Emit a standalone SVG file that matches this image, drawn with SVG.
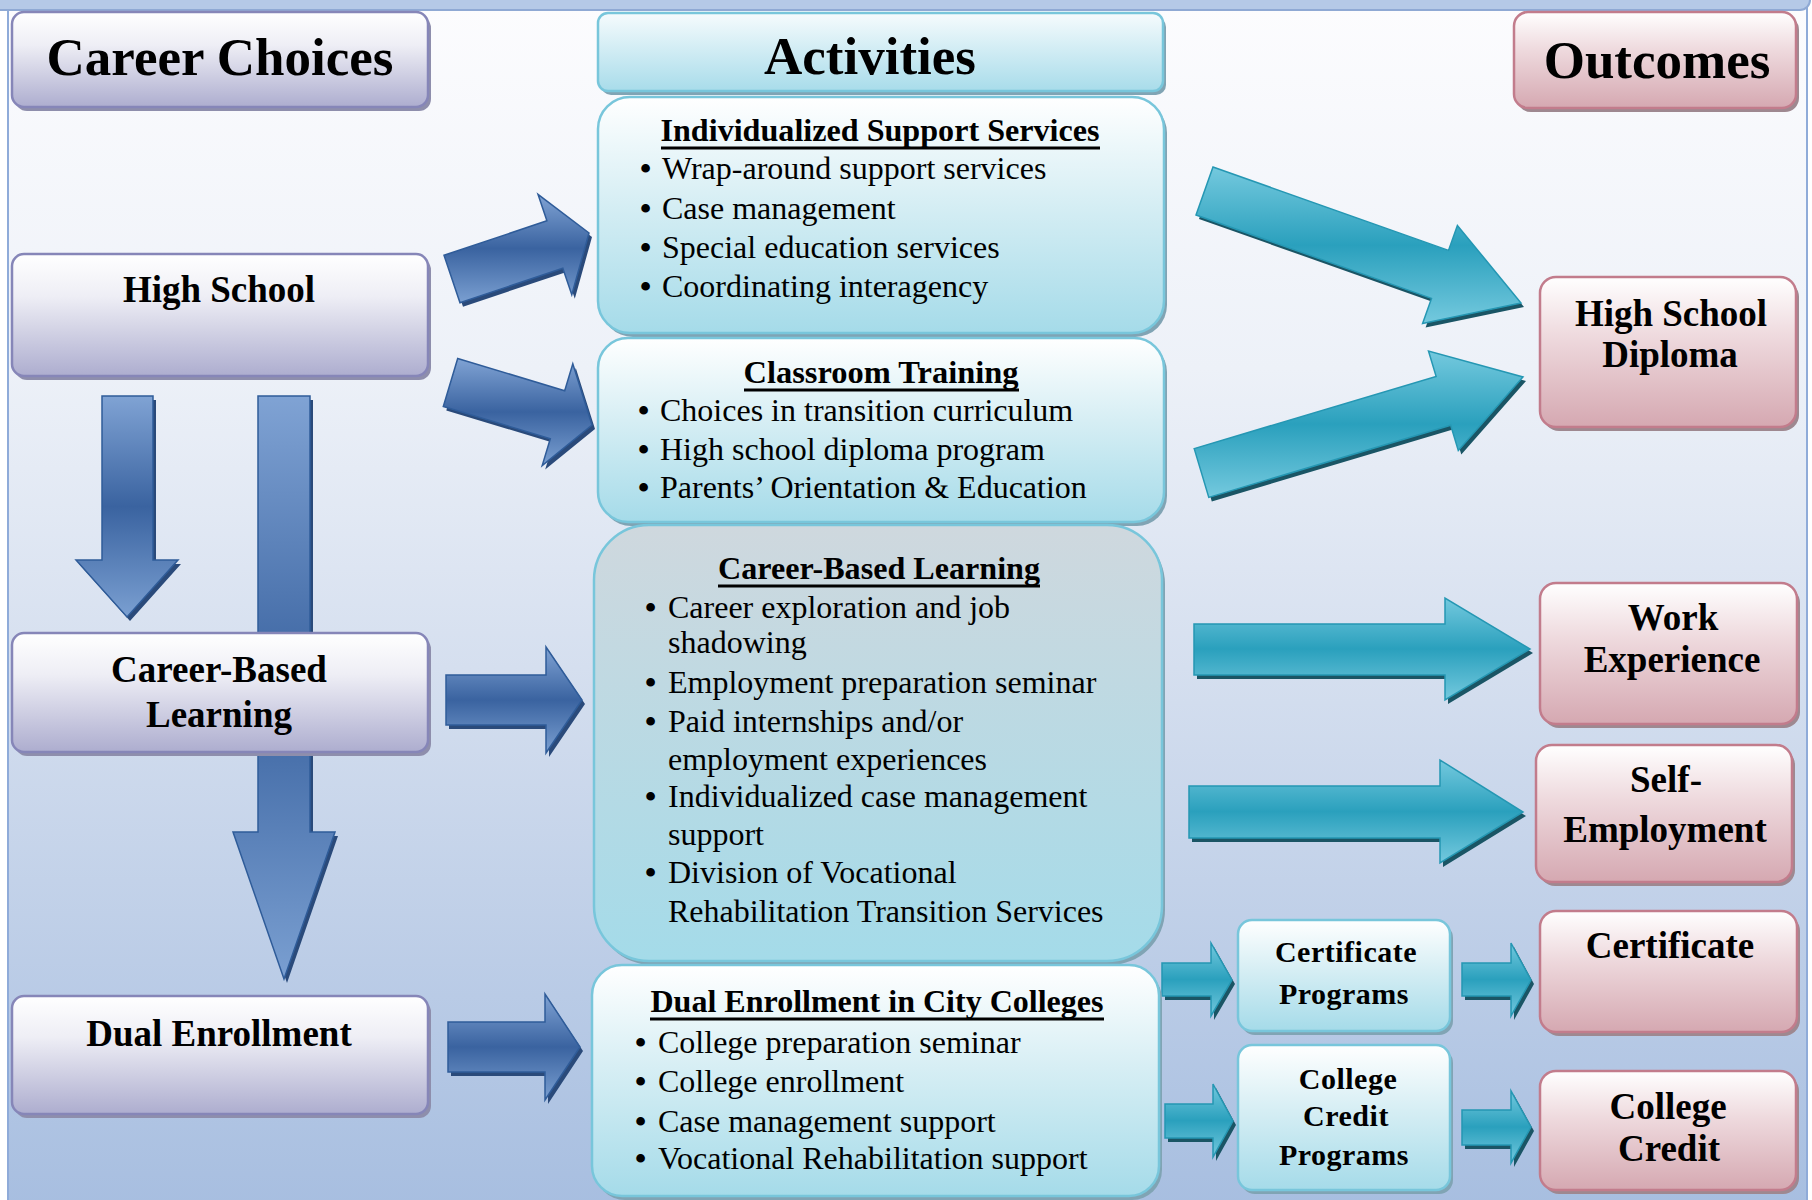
<svg xmlns="http://www.w3.org/2000/svg" width="1812" height="1200" viewBox="0 0 1812 1200">
<defs>
<linearGradient id="bg" x1="0" y1="0" x2="0" y2="1">
<stop offset="0" stop-color="#fcfcfe"/><stop offset="0.3" stop-color="#edf1f8"/><stop offset="0.55" stop-color="#d5dfef"/><stop offset="1" stop-color="#a7bee0"/>
</linearGradient>
<linearGradient id="gPur" x1="0" y1="0" x2="0" y2="1">
<stop offset="0" stop-color="#ffffff"/><stop offset="0.35" stop-color="#eeeef5"/><stop offset="1" stop-color="#adadcf"/>
</linearGradient>
<linearGradient id="gCy" x1="0" y1="0" x2="0" y2="1">
<stop offset="0" stop-color="#ffffff"/><stop offset="0.45" stop-color="#d6eef4"/><stop offset="1" stop-color="#a5dbe9"/>
</linearGradient>
<linearGradient id="gHead" x1="0" y1="0" x2="0" y2="1">
<stop offset="0" stop-color="#f6fbfd"/><stop offset="1" stop-color="#a8dcea"/>
</linearGradient>
<linearGradient id="gCbl" x1="0" y1="0" x2="0" y2="1">
<stop offset="0" stop-color="#cfd8de"/><stop offset="1" stop-color="#a4dbe9"/>
</linearGradient>
<linearGradient id="gPink" x1="0" y1="0" x2="0" y2="1">
<stop offset="0" stop-color="#ffffff"/><stop offset="0.4" stop-color="#eed9dd"/><stop offset="1" stop-color="#d5a8b1"/>
</linearGradient>
<linearGradient id="gBlue" x1="0" y1="0" x2="0" y2="1">
<stop offset="0" stop-color="#80a3d4"/><stop offset="0.5" stop-color="#3a63a0"/><stop offset="1" stop-color="#7a9fd1"/>
</linearGradient>
<linearGradient id="gTeal" x1="0" y1="0" x2="0" y2="1">
<stop offset="0" stop-color="#74c9de"/><stop offset="0.5" stop-color="#2aa0bd"/><stop offset="1" stop-color="#74c9de"/>
</linearGradient>
</defs>
<style>
.t{font-family:"Liberation Serif","Times New Roman",serif;fill:#000}
.hb{font-weight:bold;font-size:53px;text-anchor:middle}
.lb{font-weight:bold;font-size:37px;text-anchor:middle}
.sb{font-weight:bold;font-size:30px;text-anchor:middle;letter-spacing:0.5px}
.ti{font-weight:bold;font-size:31px;text-anchor:middle}
.bl{font-size:32px}
.bu{font-weight:bold}
.ul{stroke:#000;stroke-width:3}
.pur{fill:url(#gPur);stroke:#8686b8;stroke-width:2.5}
.purS{fill:#8e8eac}
.cy{fill:url(#gCy);stroke:#78c6db;stroke-width:2.5}
.cyS{fill:#80a4b4}
.pk{fill:url(#gPink);stroke:#c27c8c;stroke-width:2.5}
.pkS{fill:#9e8890}
.ab{fill:url(#gBlue);stroke:#2f5c99;stroke-width:1.5}
.abS{fill:#2a4a7a}
.at{fill:url(#gTeal);stroke:#2597b3;stroke-width:1.5}
.atS{fill:#1a5565}
</style>
<rect x="0" y="0" width="1812" height="1200" fill="#ffffff"/>
<rect x="8" y="8" width="1799" height="1200" fill="url(#bg)" stroke="#8fabd9" stroke-width="2"/>
<rect x="-10" y="-20" width="1820" height="30" rx="10" fill="#b5c9e7" stroke="#8fa9d4" stroke-width="2"/>

<g id="connectors">
<g transform="translate(3,4)">
<polygon class="abS" points="258,396 310,396 310,832 335,832 284,979 233,832 258,832"/>
<polygon class="abS" points="102,396 153,396 153,560 178,560 127,617 76,560 102,560"/>
<polygon class="abS" points="444,255.3 546.9,220.8 538,194.3 589,233 571.8,294.7 562.8,268.2 460,302.7"/>
<polygon class="abS" points="457.7,358.5 564.7,390.7 572.8,363.9 592,425 542.2,465.5 550.3,438.7 443.3,406.5"/>
<polygon class="abS" points="446,675 546,675 546,647 582,700 546,753 546,725 446,725"/>
<polygon class="abS" points="448,1022 545,1022 545,994 580,1047 545,1100 545,1072 448,1072"/>
<polygon class="atS" points="1213,167 1448.5,250.4 1457.4,225.4 1521,303 1422.6,323.4 1431.5,298.4 1196,215"/>
<polygon class="atS" points="1194.2,448.6 1436.1,376.4 1428.5,351 1523,377 1458.3,450.6 1450.7,425.2 1208.8,497.4"/>
<polygon class="atS" points="1194,624 1445,624 1445,598 1530,649 1445,700 1445,675 1194,675"/>
<polygon class="atS" points="1189,786 1440,786 1440,760 1523,812 1440,863 1440,838 1189,838"/>
<polygon class="atS" points="1162,963 1211,963 1211,943 1232,980 1211,1016 1211,996 1162,996"/>
<polygon class="atS" points="1165,1104 1213,1104 1213,1084 1233,1121 1213,1157 1213,1138 1165,1138"/>
<polygon class="atS" points="1462,963 1511,963 1511,943 1531,980 1511,1016 1511,996 1462,996"/>
<polygon class="atS" points="1462,1110 1511,1110 1511,1091 1531,1127 1511,1163 1511,1145 1462,1145"/>
</g>
<polygon class="ab" points="258,396 310,396 310,832 335,832 284,979 233,832 258,832"/>
<polygon class="ab" points="102,396 153,396 153,560 178,560 127,617 76,560 102,560"/>
<polygon class="ab" points="444,255.3 546.9,220.8 538,194.3 589,233 571.8,294.7 562.8,268.2 460,302.7"/>
<polygon class="ab" points="457.7,358.5 564.7,390.7 572.8,363.9 592,425 542.2,465.5 550.3,438.7 443.3,406.5"/>
<polygon class="ab" points="446,675 546,675 546,647 582,700 546,753 546,725 446,725"/>
<polygon class="ab" points="448,1022 545,1022 545,994 580,1047 545,1100 545,1072 448,1072"/>
<polygon class="at" points="1213,167 1448.5,250.4 1457.4,225.4 1521,303 1422.6,323.4 1431.5,298.4 1196,215"/>
<polygon class="at" points="1194.2,448.6 1436.1,376.4 1428.5,351 1523,377 1458.3,450.6 1450.7,425.2 1208.8,497.4"/>
<polygon class="at" points="1194,624 1445,624 1445,598 1530,649 1445,700 1445,675 1194,675"/>
<polygon class="at" points="1189,786 1440,786 1440,760 1523,812 1440,863 1440,838 1189,838"/>
<polygon class="at" points="1162,963 1211,963 1211,943 1232,980 1211,1016 1211,996 1162,996"/>
<polygon class="at" points="1165,1104 1213,1104 1213,1084 1233,1121 1213,1157 1213,1138 1165,1138"/>
<polygon class="at" points="1462,963 1511,963 1511,943 1531,980 1511,1016 1511,996 1462,996"/>
<polygon class="at" points="1462,1110 1511,1110 1511,1091 1531,1127 1511,1163 1511,1145 1462,1145"/>
</g>

<g id="career-choices">
<rect class="purS" x="15" y="16" width="416" height="95" rx="12"/>
<rect class="pur" x="12" y="12" width="416" height="95" rx="12"/>
<text class="t hb" x="220" y="75">Career Choices</text>
</g>
<g id="high-school">
<rect class="purS" x="15" y="258" width="416" height="122" rx="12"/>
<rect class="pur" x="12" y="254" width="416" height="122" rx="12"/>
<text class="t lb" x="219" y="302">High School</text>
</g>
<g id="career-based">
<rect class="purS" x="15" y="637" width="416" height="119" rx="12"/>
<rect class="pur" x="12" y="633" width="416" height="119" rx="12"/>
<text class="t lb" x="219" y="682">Career-Based</text>
<text class="t lb" x="219" y="727">Learning</text>
</g>
<g id="dual-enrollment">
<rect class="purS" x="15" y="1000" width="416" height="118" rx="12"/>
<rect class="pur" x="12" y="996" width="416" height="118" rx="12"/>
<text class="t lb" x="219" y="1046">Dual Enrollment</text>
</g>

<g id="activities">
<rect class="cyS" x="601" y="17" width="565" height="78" rx="10"/>
<rect x="598" y="13" width="565" height="78" rx="10" fill="url(#gHead)" stroke="#78c6db" stroke-width="2.5"/>
<text class="t hb" x="870" y="74">Activities</text>
</g>
<g id="iss">
<rect class="cyS" x="601" y="101" width="566" height="236" rx="32"/>
<rect class="cy" x="598" y="97" width="566" height="236" rx="32"/>
<text class="t ti" x="880" y="141" textLength="439" lengthAdjust="spacingAndGlyphs">Individualized Support Services</text>
<line class="ul" x1="661" y1="148" x2="1100" y2="148"/>
<text class="t bl" y="179"><tspan class="bu" x="640">•</tspan><tspan x="662">Wrap-around support services</tspan></text>
<text class="t bl" y="219"><tspan class="bu" x="640">•</tspan><tspan x="662">Case management</tspan></text>
<text class="t bl" y="258"><tspan class="bu" x="640">•</tspan><tspan x="662">Special education services</tspan></text>
<text class="t bl" y="297"><tspan class="bu" x="640">•</tspan><tspan x="662">Coordinating interagency</tspan></text>
</g>
<g id="classroom">
<rect class="cyS" x="601" y="342" width="566" height="184" rx="30"/>
<rect class="cy" x="598" y="338" width="566" height="184" rx="30"/>
<text class="t ti" x="881" y="383" textLength="275" lengthAdjust="spacingAndGlyphs">Classroom Training</text>
<line class="ul" x1="744" y1="390" x2="1019" y2="390"/>
<text class="t bl" y="421"><tspan class="bu" x="638">•</tspan><tspan x="660">Choices in transition curriculum</tspan></text>
<text class="t bl" y="460"><tspan class="bu" x="638">•</tspan><tspan x="660">High school diploma program</tspan></text>
<text class="t bl" y="498"><tspan class="bu" x="638">•</tspan><tspan x="660">Parents’ Orientation &amp; Education</tspan></text>
</g>
<g id="cbl-activity">
<rect class="cyS" x="597" y="529" width="568" height="436" rx="55"/>
<rect x="594" y="525" width="568" height="436" rx="55" fill="url(#gCbl)" stroke="#78c6db" stroke-width="2.5"/>
<text class="t ti" x="879" y="579" textLength="322" lengthAdjust="spacingAndGlyphs">Career-Based Learning</text>
<line class="ul" x1="718" y1="586" x2="1040" y2="586"/>
<text class="t bl" y="618"><tspan class="bu" x="645">•</tspan><tspan x="668">Career exploration and job</tspan></text>
<text class="t bl" x="668" y="653">shadowing</text>
<text class="t bl" y="693"><tspan class="bu" x="645">•</tspan><tspan x="668">Employment preparation seminar</tspan></text>
<text class="t bl" y="732"><tspan class="bu" x="645">•</tspan><tspan x="668">Paid internships and/or</tspan></text>
<text class="t bl" x="668" y="770">employment experiences</text>
<text class="t bl" y="807"><tspan class="bu" x="645">•</tspan><tspan x="668">Individualized case management</tspan></text>
<text class="t bl" x="668" y="845">support</text>
<text class="t bl" y="883"><tspan class="bu" x="645">•</tspan><tspan x="668">Division of Vocational</tspan></text>
<text class="t bl" x="668" y="922">Rehabilitation Transition Services</text>
</g>
<g id="dual-activity">
<rect class="cyS" x="595" y="969" width="567" height="231" rx="30"/>
<rect class="cy" x="592" y="965" width="567" height="231" rx="30"/>
<text class="t ti" x="877" y="1012" textLength="453" lengthAdjust="spacingAndGlyphs">Dual Enrollment in City Colleges</text>
<line class="ul" x1="650" y1="1019" x2="1104" y2="1019"/>
<text class="t bl" y="1053"><tspan class="bu" x="635">•</tspan><tspan x="658">College preparation seminar</tspan></text>
<text class="t bl" y="1092"><tspan class="bu" x="635">•</tspan><tspan x="658">College enrollment</tspan></text>
<text class="t bl" y="1132"><tspan class="bu" x="635">•</tspan><tspan x="658">Case management support</tspan></text>
<text class="t bl" y="1169"><tspan class="bu" x="635">•</tspan><tspan x="658">Vocational Rehabilitation support</tspan></text>
</g>
<g id="certificate-programs">
<rect class="cyS" x="1241" y="924" width="212" height="111" rx="14"/>
<rect class="cy" x="1238" y="920" width="212" height="111" rx="14"/>
<text class="t sb" x="1346" y="962">Certificate</text>
<text class="t sb" x="1344" y="1004">Programs</text>
</g>
<g id="college-credit-programs">
<rect class="cyS" x="1241" y="1049" width="212" height="145" rx="14"/>
<rect class="cy" x="1238" y="1045" width="212" height="145" rx="14"/>
<text class="t sb" x="1348" y="1089">College</text>
<text class="t sb" x="1346" y="1126">Credit</text>
<text class="t sb" x="1344" y="1165">Programs</text>
</g>

<g id="outcomes">
<rect class="pkS" x="1517" y="16" width="282" height="96" rx="14"/>
<rect class="pk" x="1514" y="12" width="282" height="96" rx="14"/>
<text class="t hb" x="1657" y="78">Outcomes</text>
</g>
<g id="hs-diploma">
<rect class="pkS" x="1543" y="281" width="256" height="150" rx="16"/>
<rect class="pk" x="1540" y="277" width="256" height="150" rx="16"/>
<text class="t lb" x="1671" y="326">High School</text>
<text class="t lb" x="1670" y="367">Diploma</text>
</g>
<g id="work-experience">
<rect class="pkS" x="1543" y="587" width="257" height="141" rx="16"/>
<rect class="pk" x="1540" y="583" width="257" height="141" rx="16"/>
<text class="t lb" x="1673" y="630">Work</text>
<text class="t lb" x="1672" y="672">Experience</text>
</g>
<g id="self-employment">
<rect class="pkS" x="1539" y="749" width="256" height="137" rx="16"/>
<rect class="pk" x="1536" y="745" width="256" height="137" rx="16"/>
<text class="t lb" x="1666" y="792">Self-</text>
<text class="t lb" x="1665" y="842">Employment</text>
</g>
<g id="certificate">
<rect class="pkS" x="1543" y="915" width="257" height="121" rx="16"/>
<rect class="pk" x="1540" y="911" width="257" height="121" rx="16"/>
<text class="t lb" x="1670" y="958">Certificate</text>
</g>
<g id="college-credit">
<rect class="pkS" x="1543" y="1075" width="256" height="119" rx="16"/>
<rect class="pk" x="1540" y="1071" width="256" height="119" rx="16"/>
<text class="t lb" x="1668" y="1119">College</text>
<text class="t lb" x="1669" y="1161">Credit</text>
</g>
</svg>
